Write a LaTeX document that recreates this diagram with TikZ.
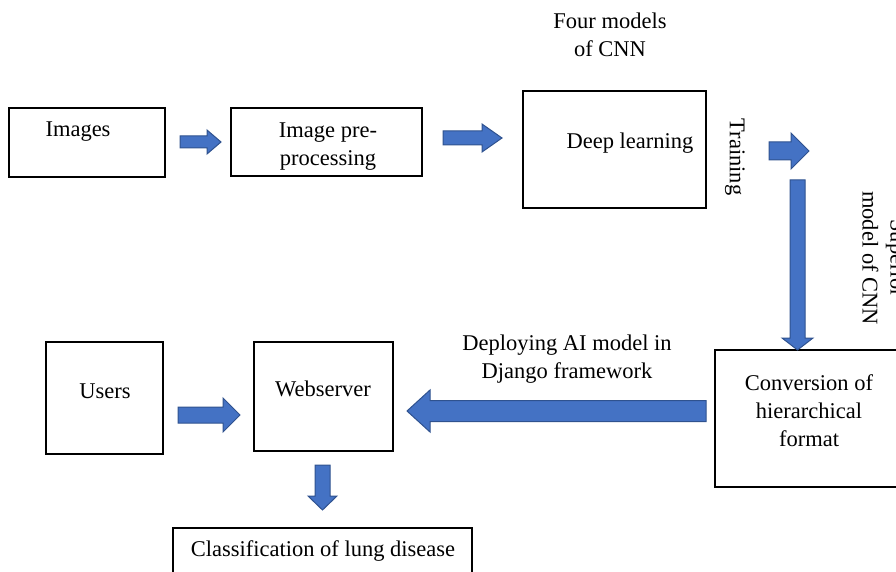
\documentclass[tikz,border=0pt]{standalone}
\usepackage{fontspec}
\setmainfont{Liberation Serif}
\definecolor{arrfill}{HTML}{4472C4}
\definecolor{arrline}{HTML}{2F528F}
\tikzset{
  box/.style={draw=black, line width=1.4pt, rectangle},
  txt/.style={font=\fontsize{22.5}{28}\selectfont, align=center, inner sep=0pt},
  barrow/.style={fill=arrfill, draw=arrline, line width=1pt, line join=miter}
}
\newcommand{\harrow}[6]{\filldraw[barrow] (#1,#4-#5) -- (#2,#4-#5) -- (#2,#4-#6) -- (#3,#4) -- (#2,#4+#6) -- (#2,#4+#5) -- (#1,#4+#5) -- cycle;}
\newcommand{\varrow}[6]{\filldraw[barrow] (#4-#5,#1) -- (#4-#5,#2) -- (#4-#6,#2) -- (#4,#3) -- (#4+#6,#2) -- (#4+#5,#2) -- (#4+#5,#1) -- cycle;}
\begin{document}
\begin{tikzpicture}[x=1pt,y=-1pt]
\useasboundingbox (0,0) rectangle (896,572);
% boxes
\draw[box] (9,108) rectangle (165,177);
\node[coordinate] (imagesbox) at (87,143) {};
\draw[box] (231,108) rectangle (422,176);
\node[coordinate] (prebox) at (326,142) {};
\draw[box] (523,91) rectangle (706,208);
\node[coordinate] (dlbox) at (614,150) {};
\draw[box] (715,350) rectangle (900,487);
\node[coordinate] (convbox) at (807,418) {};
\draw[box] (46,342) rectangle (163,454);
\node[coordinate] (usersbox) at (104,398) {};
\draw[box] (254,342) rectangle (393,451);
\node[coordinate] (webbox) at (323,396) {};
\draw[box] (173,528) rectangle (472,580);
\node[coordinate] (clsbox) at (323,550) {};
% texts
\node[txt] (images) at (78,132) {Images};
\node[txt] (pre) at (328,147) {Image pre-\\processing};
\node[txt] (dl) at (630,143) {Deep learning};
\node[txt] (four) at (610,35) {Four models\\of CNN};
\node[txt, rotate=-90] (training) at (735,157) {Training};
\node[txt, rotate=-90] (superior) at (884,258) {Superior\\model of CNN};
\node[txt] (conv) at (809,411) {Conversion of\\hierarchical\\format};
\node[txt] (deploy) at (567,359) {Deploying AI model in\\Django framework};
\node[txt] (users) at (105,391) {Users};
\node[txt] (web) at (323,389) {Webserver};
\node[txt] (cls) at (323,551) {Classification of lung disease};
% block arrows
\harrow{180}{207}{221}{142}{6}{12}
\harrow{443}{482}{502}{138}{7}{14}
\harrow{769}{791}{809}{151}{9}{18}
\varrow{180}{338}{350}{797.5}{7.5}{15.5}
\harrow{706}{430}{407}{411}{10.5}{21}
\harrow{178}{223}{240}{415}{8}{17}
\varrow{465}{496}{510}{322.5}{7.5}{14.5}
\end{tikzpicture}
\end{document}
